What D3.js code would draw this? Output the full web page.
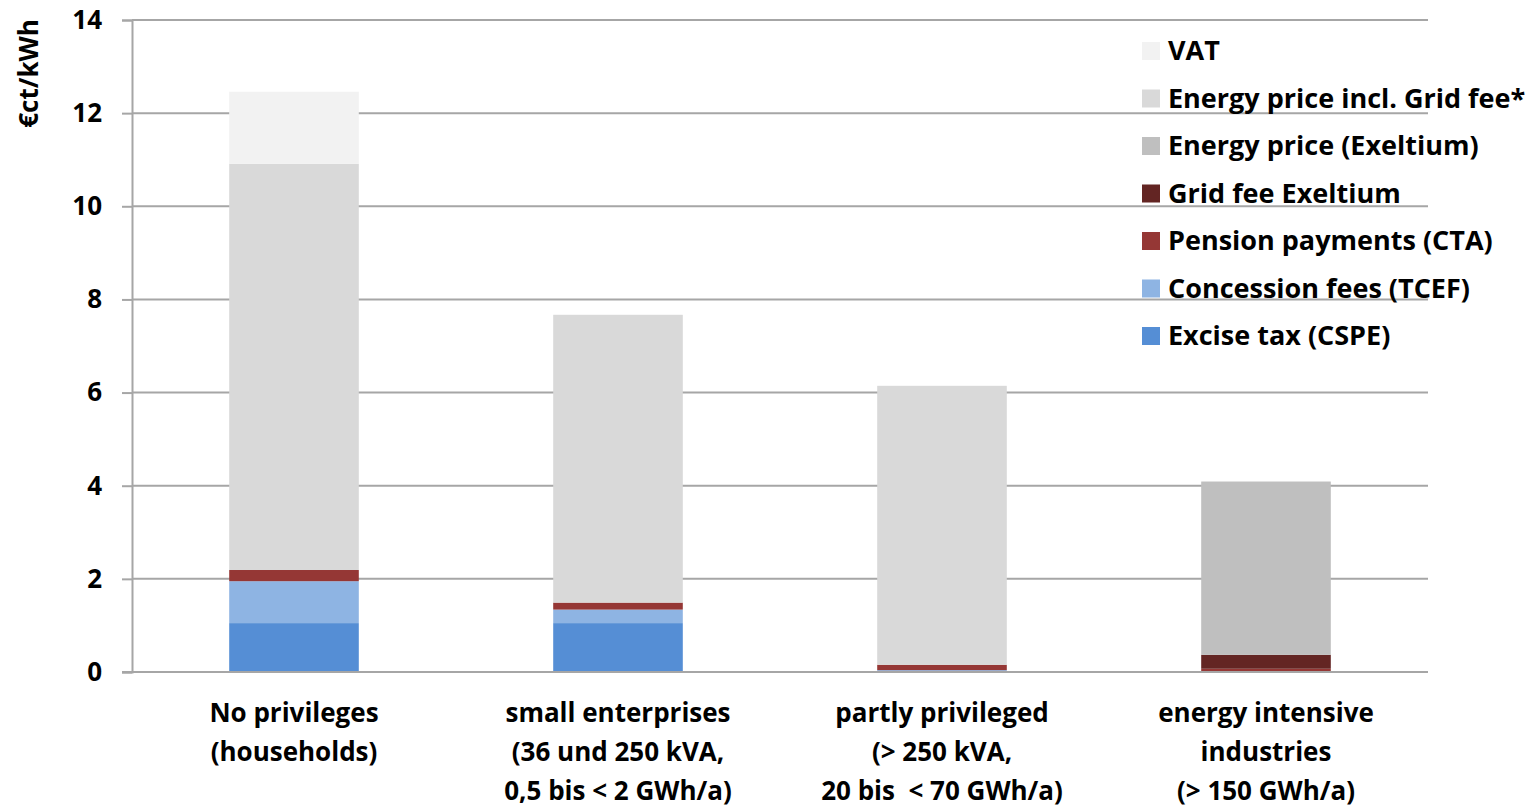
<!DOCTYPE html>
<html>
<head>
<meta charset="utf-8">
<script src="https://cdn.jsdelivr.net/npm/d3@7"></script>
<style>
  body { margin: 0; background: #fff; }
  text { font-family: "Open Sans", Lato, sans-serif; font-weight: bold; fill: #000; white-space: pre; }
</style>
</head>
<body>
<div id="chart"></div>
<script>
// categories, two or three text lines each
const categories = ["No privileges", "small enterprises", "partly privileged", "energy intensive"];
const categoryLines = [
  ["No privileges", "(households)"],
  ["small enterprises", "(36 und 250 kVA,", "0,5 bis < 2 GWh/a)"],
  ["partly privileged", "(> 250 kVA,", "20 bis  < 70 GWh/a)"],
  ["energy intensive", "industries", "(> 150 GWh/a)"]
];

// series, bottom to top (values in ct/kWh)
const seriesNames = ["Excise tax (CSPE)", "Concession fees (TCEF)", "Pension payments (CTA)", "Grid fee Exeltium",
  "Energy price (Exeltium)", "Energy price incl. Grid fee*", "VAT"];
const exciseTax     = [1.05, 1.05, 0.00, 0.00];
const concession    = [0.90, 0.29, 0.04, 0.00];
const pension       = [0.24, 0.15, 0.115, 0.07];
const gridExeltium  = [0.00, 0.00, 0.00, 0.30];
const energyExel    = [0.00, 0.00, 0.00, 3.72];
const energyInclGrid = [8.72, 6.18, 5.99, 0.00];
const vat           = [1.55, 0.00, 0.00, 0.00];
const colors = ["#558ed5", "#8eb4e3", "#953735", "#632523", "#bfbfbf", "#d9d9d9", "#f2f2f2"];
const yTicks = [0, 2, 4, 6, 8, 10, 12, 14];

const allSeries = [exciseTax, concession, pension, gridExeltium, energyExel, energyInclGrid, vat];
const rows = categories.map((c, i) => {
  const r = { cat: c };
  seriesNames.forEach((s, j) => r[s] = allSeries[j][i]);
  return r;
});

const width = 1528, height = 808;
const margin = { top: 20, right: 100, bottom: 136, left: 132 };

const svg = d3.select("#chart").append("svg")
  .attr("width", width).attr("height", height);

const x = d3.scaleBand().domain(categories)
  .range([margin.left, width - margin.right]).paddingInner(0.6).paddingOuter(0.3);
const y = d3.scaleLinear().domain([0, 14]).range([height - margin.bottom, margin.top]);

// gridlines
svg.append("g").selectAll("line").data(yTicks.filter(d => d > 0)).join("line")
  .attr("x1", margin.left).attr("x2", width - margin.right)
  .attr("y1", d => y(d)).attr("y2", d => y(d))
  .attr("stroke", "#a6a6a6").attr("stroke-width", 2);

// stacked bars
const stack = d3.stack().keys(seriesNames);
const layers = stack(rows);
svg.append("g").selectAll("g").data(layers).join("g")
  .attr("fill", (d, i) => colors[i])
  .selectAll("rect").data(d => d).join("rect")
  .attr("x", d => x(d.data.cat))
  .attr("width", x.bandwidth())
  .attr("y", d => y(d[1]))
  .attr("height", d => y(d[0]) - y(d[1]));

// y axis
const yAxis = svg.append("g").attr("transform", `translate(${margin.left},0)`)
  .call(d3.axisLeft(y).tickValues(yTicks).tickSize(10).tickPadding(20));
yAxis.select(".domain").attr("stroke", "#a6a6a6").attr("stroke-width", 2);
yAxis.selectAll(".tick line").attr("stroke", "#a6a6a6").attr("stroke-width", 2);
yAxis.selectAll(".tick text").style("font-size", "26px")
  .attr("font-family", null);

// x axis
svg.append("line")
  .attr("x1", margin.left - 10).attr("x2", width - margin.right)
  .attr("y1", y(0)).attr("y2", y(0))
  .attr("stroke", "#a6a6a6").attr("stroke-width", 2);

const xl = svg.append("g").selectAll("text").data(categories).join("text")
  .attr("text-anchor", "middle")
  .attr("x", d => x(d) + x.bandwidth() / 2)
  .attr("y", y(0) + 50)
  .style("font-size", "26px");
xl.selectAll("tspan").data((d, i) => categoryLines[i]).join("tspan")
  .attr("x", function () { return d3.select(this.parentNode).attr("x"); })
  .attr("dy", (d, i) => i === 0 ? 0 : 39)
  .text(d => d);

// y axis title
svg.append("text")
  .attr("transform", `translate(38,${y(12.85)}) rotate(-90)`)
  .attr("text-anchor", "middle")
  .style("font-size", "26px")
  .text("€ct/kWh");

// legend, top to bottom = reverse stack order
const legendItems = seriesNames.map((n, i) => ({ n, c: colors[i] })).reverse();
const legend = svg.append("g").selectAll("g").data(legendItems).join("g")
  .attr("transform", (d, i) => `translate(1142,${51 + i * 47.5})`);
legend.append("rect").attr("y", -9).attr("width", 18).attr("height", 18).attr("fill", d => d.c);
legend.append("text").attr("x", 26).attr("dy", "0.35em").style("font-size", "27px").text(d => d.n);
</script>
</body>
</html>
